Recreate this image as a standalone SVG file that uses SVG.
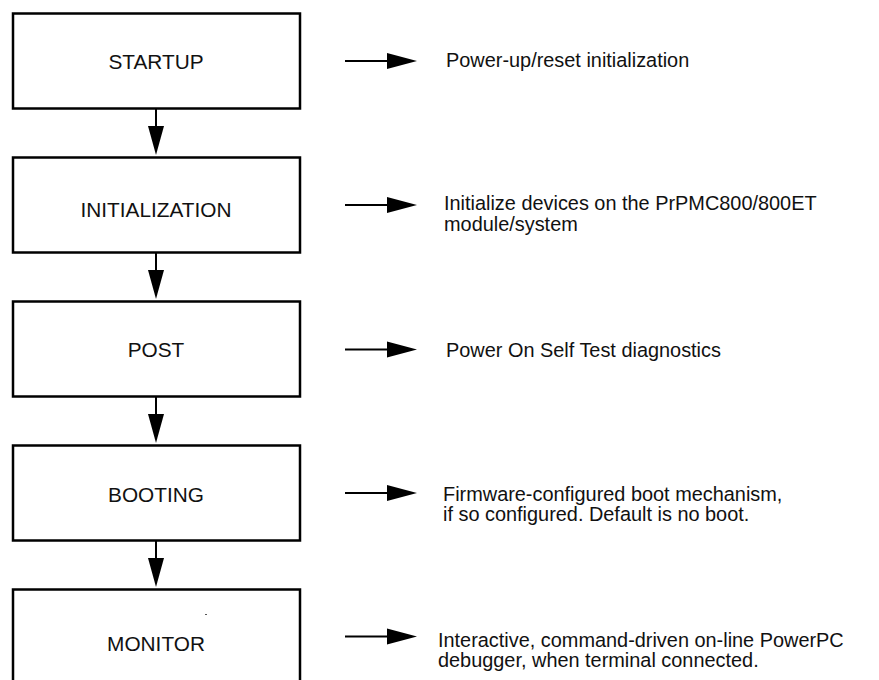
<svg xmlns="http://www.w3.org/2000/svg" width="879" height="680" viewBox="0 0 879 680">
<style>
.box{fill:#fff;stroke:#000;stroke-width:2.5}
.lbl{font-family:"Liberation Sans",Arial,sans-serif;font-size:20.8px;fill:#111;text-anchor:middle}
.desc{font-family:"Liberation Sans",Arial,sans-serif;font-size:19.9px;fill:#111}
.ln{stroke:#000;stroke-width:2;fill:none}
.hd{fill:#000}
</style>
<rect width="879" height="680" fill="#fff"/>
<g id="startup"><rect class="box" x="13" y="13.5" width="287" height="95"/><text class="lbl" x="156" y="68.5">STARTUP</text></g>
<g id="initialization"><rect class="box" x="13" y="157.5" width="287" height="95"/><text class="lbl" x="156" y="217">INITIALIZATION</text></g>
<g id="post"><rect class="box" x="13" y="301.5" width="287" height="95"/><text class="lbl" x="156" y="357">POST</text></g>
<g id="booting"><rect class="box" x="13" y="445.5" width="287" height="95"/><text class="lbl" x="156" y="501.5">BOOTING</text></g>
<g id="monitor"><rect class="box" x="13" y="589.5" width="287" height="95"/><text class="lbl" x="156" y="650.5">MONITOR</text><rect x="205" y="614" width="2" height="1" fill="#555"/></g>
<g id="desc-startup"><text class="desc" x="446" y="66.5">Power-up/reset initialization</text></g>
<g id="desc-init"><text class="desc" x="444" y="210">Initialize devices on the PrPMC800/800ET</text><text class="desc" x="444" y="230.5">module/system</text></g>
<g id="desc-post"><text class="desc" x="446" y="357">Power On Self Test diagnostics</text></g>
<g id="desc-boot"><text class="desc" x="443" y="500.5">Firmware-configured boot mechanism,</text><text class="desc" x="443" y="521">if so configured. Default is no boot.</text></g>
<g id="desc-monitor"><text class="desc" x="438" y="646.5">Interactive, command-driven on-line PowerPC</text><text class="desc" x="438" y="667">debugger, when terminal connected.</text></g>
<g id="connectors">
<line class="ln" x1="156" y1="109" x2="156" y2="128"/><polygon class="hd" points="148,126 164,126 156,155"/>
<line class="ln" x1="156" y1="253" x2="156" y2="272"/><polygon class="hd" points="148,270 164,270 156,299"/>
<line class="ln" x1="156" y1="397" x2="156" y2="416"/><polygon class="hd" points="148,414 164,414 156,443"/>
<line class="ln" x1="156" y1="541" x2="156" y2="560"/><polygon class="hd" points="148,558 164,558 156,587"/>
<line class="ln" x1="345" y1="61" x2="389" y2="61"/><polygon class="hd" points="387,53 417,61 387,69"/>
<line class="ln" x1="345" y1="205" x2="389" y2="205"/><polygon class="hd" points="387,197 417,205 387,213"/>
<line class="ln" x1="345" y1="349.5" x2="389" y2="349.5"/><polygon class="hd" points="387,341.5 417,349.5 387,357.5"/>
<line class="ln" x1="345" y1="493" x2="389" y2="493"/><polygon class="hd" points="387,485 417,493 387,501"/>
<line class="ln" x1="345" y1="636.5" x2="389" y2="636.5"/><polygon class="hd" points="387,628.5 417,636.5 387,644.5"/>
</g>
</svg>
